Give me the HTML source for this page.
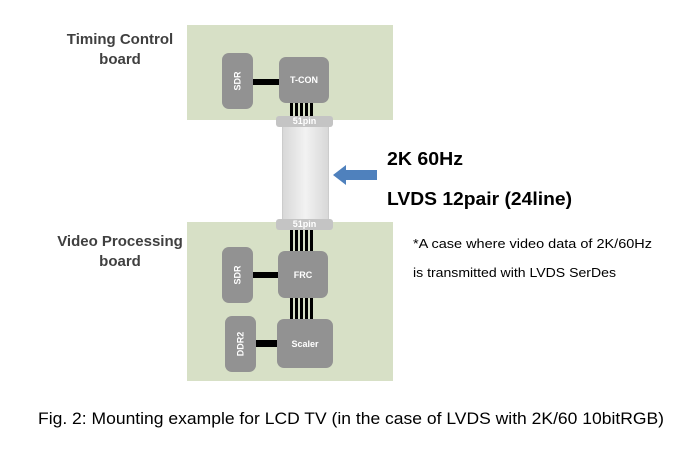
<!DOCTYPE html>
<html><head><style>
body{margin:0;width:686px;height:453px;background:#fff;position:relative;overflow:hidden;font-family:"Liberation Sans",sans-serif}
div{position:absolute;box-sizing:border-box}
.board{background:#d7e0c6}
.chip{background:#929292;border-radius:7px;color:#fff;font-weight:bold;font-size:9px;display:flex;align-items:center;justify-content:center}
.v span{transform:rotate(-90deg);display:block}
.bar{background:#000}
.pin{background:#c4c4c4;border-radius:3px;color:#fff;font-weight:bold;font-size:9px;text-align:center;line-height:11px}
.lbl{color:#404040;font-weight:bold;font-size:15px;text-align:center;line-height:20px}
.wires{background:repeating-linear-gradient(90deg,#000 0 3px,#d7e0c6 3px 5px)}
</style></head><body>
<div class="lbl" style="left:55px;top:30px;width:130px">Timing Control<br>board</div>
<div class="lbl" style="left:45px;top:232px;width:150px">Video Processing<br>board</div>
<div class="board" style="left:187px;top:25px;width:206px;height:95px"></div>
<div class="board" style="left:187px;top:222px;width:206px;height:159px"></div>
<div style="left:282px;top:125px;width:47px;height:96px;background:linear-gradient(90deg,#d8d8d8,#f2f2f2 50%,#d8d8d8);border:1px solid #ccc"></div>
<div class="chip v" style="left:222px;top:53px;width:31px;height:56px"><span>SDR</span></div>
<div class="bar" style="left:253px;top:79px;width:26px;height:6px"></div>
<div class="chip" style="left:279px;top:57px;width:50px;height:46px">T-CON</div>
<div class="wires" style="left:290px;top:103px;width:25px;height:14px"></div>
<div class="pin" style="left:276px;top:116px;width:57px;height:11px">51pin</div>
<div class="wires" style="left:290px;top:229px;width:25px;height:22px"></div>
<div class="pin" style="left:276px;top:219px;width:57px;height:11px">51pin</div>
<div class="chip v" style="left:222px;top:247px;width:31px;height:56px"><span>SDR</span></div>
<div class="bar" style="left:253px;top:272px;width:25px;height:6px"></div>
<div class="chip" style="left:278px;top:251px;width:50px;height:47px">FRC</div>
<div class="wires" style="left:290px;top:298px;width:25px;height:21px"></div>
<div class="chip v" style="left:225px;top:316px;width:31px;height:56px"><span>DDR2</span></div>
<div class="bar" style="left:256px;top:340px;width:21px;height:7px"></div>
<div class="chip" style="left:277px;top:319px;width:56px;height:49px">Scaler</div>
<svg style="position:absolute;left:0;top:0" width="686" height="453" font-family="Liberation Sans, sans-serif">
<polygon points="333,175 346,165 346,170 377,170 377,180 346,180 346,185" fill="#4f81bd"/>
<text x="387" y="165" font-size="18" font-weight="bold" textLength="76" lengthAdjust="spacingAndGlyphs">2K 60Hz</text>
<text x="387" y="205" font-size="18" font-weight="bold" textLength="185" lengthAdjust="spacingAndGlyphs">LVDS 12pair (24line)</text>
<text x="413" y="248" font-size="12.5" textLength="239" lengthAdjust="spacingAndGlyphs">*A case where video data of 2K/60Hz</text>
<text x="413" y="277" font-size="12.5" textLength="203" lengthAdjust="spacingAndGlyphs">is transmitted with LVDS SerDes</text>
<text x="38" y="424" font-size="17" textLength="626" lengthAdjust="spacingAndGlyphs">Fig. 2: Mounting example for LCD TV (in the case of LVDS with 2K/60 10bitRGB)</text>
</svg>
</body></html>
